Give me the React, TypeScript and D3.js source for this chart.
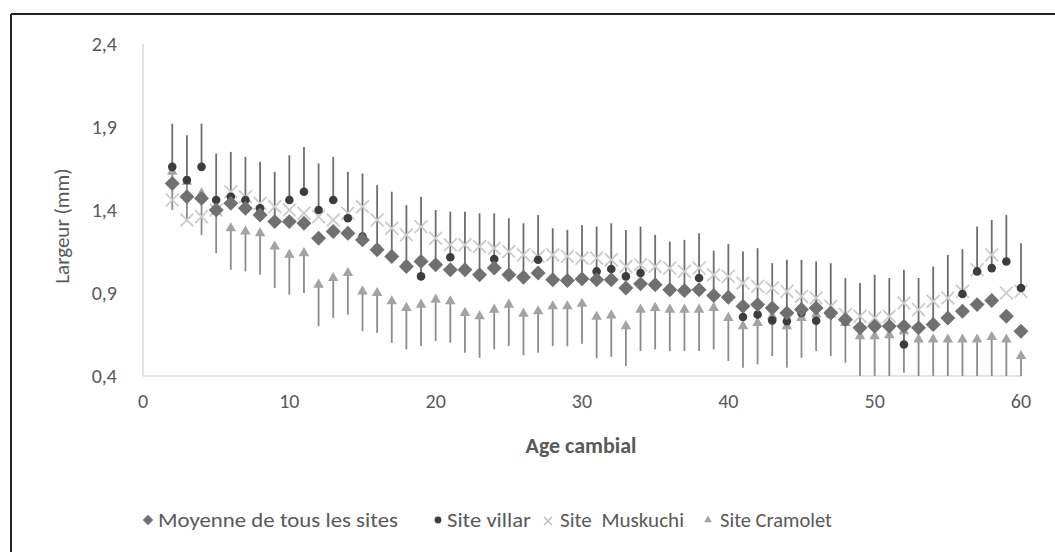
import React from 'react';
import * as d3 from 'd3';

const ages = [2,3,4,5,6,7,8,9,10,11,12,13,14,15,16,17,18,19,20,21,22,23,24,25,26,27,28,29,30,31,32,33,34,35,36,37,38,39,40,41,42,43,44,45,46,47,48,49,50,51,52,53,54,55,56,57,58,59,60];

const moyenne = [1.56,1.48,1.47,1.40,1.44,1.41,1.37,1.33,1.33,1.32,1.23,1.27,1.26,1.22,1.16,1.12,1.06,1.09,1.07,1.04,1.04,1.01,1.05,1.01,0.995,1.02,0.98,0.975,0.985,0.98,0.98,0.93,0.955,0.95,0.92,0.915,0.92,0.885,0.875,0.82,0.83,0.81,0.78,0.80,0.81,0.78,0.74,0.69,0.70,0.70,0.70,0.69,0.71,0.75,0.79,0.83,0.855,0.76,0.67];

const villar = [1.66,1.58,1.66,1.46,1.48,1.46,1.41,1.33,1.46,1.51,1.40,1.46,1.35,1.24,1.17,1.12,1.07,1.00,1.07,1.115,1.04,1.01,1.105,1.01,1.00,1.10,0.98,0.97,0.99,1.03,1.045,1.00,1.02,0.95,0.92,0.92,0.99,0.88,0.87,0.755,0.77,0.735,0.73,0.78,0.733,0.77,0.73,0.69,0.70,0.70,0.59,0.69,0.71,0.75,0.894,1.03,1.05,1.09,0.93];

const villarErrPlus = [0.26,0.27,0.26,0.28,0.27,0.26,0.28,0.30,0.27,0.27,0.28,0.26,0.28,0.38,0.38,0.39,0.36,0.48,0.33,0.275,0.35,0.37,0.275,0.34,0.32,0.27,0.31,0.31,0.32,0.27,0.275,0.28,0.28,0.30,0.29,0.30,0.27,0.275,0.325,0.395,0.40,0.345,0.37,0.32,0.357,0.31,0.26,0.27,0.31,0.29,0.45,0.30,0.35,0.38,0.27,0.27,0.29,0.28,0.27];

const muskuchi = [1.46,1.34,1.36,1.40,1.51,1.48,1.44,1.42,1.40,1.38,1.36,1.34,1.38,1.42,1.34,1.29,1.25,1.30,1.23,1.19,1.19,1.18,1.17,1.15,1.13,1.12,1.13,1.12,1.11,1.11,1.10,1.06,1.07,1.06,1.05,1.03,1.05,1.01,1.00,0.96,0.94,0.93,0.91,0.88,0.87,0.82,0.77,0.76,0.75,0.76,0.84,0.80,0.85,0.87,0.91,1.04,1.13,0.90,0.91];

const cramolet = [1.63,1.57,1.50,1.39,1.29,1.27,1.26,1.18,1.13,1.14,0.95,0.99,1.02,0.91,0.90,0.85,0.81,0.83,0.86,0.85,0.78,0.76,0.80,0.83,0.775,0.79,0.82,0.82,0.835,0.757,0.765,0.70,0.80,0.81,0.80,0.80,0.80,0.81,0.75,0.70,0.72,0.76,0.70,0.75,0.77,0.77,0.72,0.64,0.64,0.645,0.67,0.62,0.62,0.62,0.62,0.62,0.635,0.62,0.52];

const cramoletErrMinus = [0.23,0.23,0.25,0.25,0.25,0.24,0.25,0.25,0.24,0.24,0.25,0.24,0.25,0.24,0.24,0.25,0.25,0.25,0.25,0.25,0.24,0.25,0.24,0.25,0.25,0.25,0.24,0.24,0.24,0.25,0.25,0.24,0.25,0.25,0.25,0.25,0.25,0.25,0.26,0.25,0.25,0.24,0.25,0.24,0.22,0.25,0.24,0.25,0.25,0.25,0.25,0.25,0.25,0.25,0.25,0.25,0.25,0.25,0.25];

const yTicks = [0.4, 0.9, 1.4, 1.9, 2.4];
const xTicks = [0, 10, 20, 30, 40, 50, 60];

const legendLabels = ['Moyenne de tous les sites', 'Site villar', 'Site  Muskuchi', 'Site Cramolet'];

const W = 1055;
const H = 552;
const FONT = 'Carlito, Calibri, Lato, sans-serif';
const TXT = '#595959';

export default function App() {
  const x = d3.scaleLinear().domain([0, 60]).range([143, 1021]);
  const y = d3.scaleLinear().domain([0.4, 2.4]).range([376, 44]);
  const yc = (v: number) => y(Math.max(0.4, Math.min(2.4, v)));
  const fmt = (v: number) => d3.format('.1f')(v).replace('.', ',');

  const diamond = d3.symbol().type(d3.symbolSquare).size(112)()!;
  const tri = d3.symbol().type(d3.symbolTriangle).size(48)()!;
  const cross = d3.symbol().type(d3.symbolX).size(110)()!;

  const legDiamond = d3.symbol().type(d3.symbolSquare).size(55)()!;
  const legTri = d3.symbol().type(d3.symbolTriangle).size(26)()!;
  const legCross = d3.symbol().type(d3.symbolX).size(42)()!;

  const legendItems = [
    { mx: 148, tx: 158, tw: 240, label: legendLabels[0], kind: 'diamond' },
    { mx: 438, tx: 447, tw: 84, label: legendLabels[1], kind: 'circle' },
    { mx: 548, tx: 560, tw: 124, label: legendLabels[2], kind: 'cross' },
    { mx: 708, tx: 720, tw: 112, label: legendLabels[3], kind: 'tri' },
  ];

  return (
    <svg width={W} height={H} style={{ position: 'fixed', left: 0, top: 0, background: '#fff' }} fontFamily={FONT}>
      <rect x={0} y={0} width={W} height={H} fill="#fff" />
      <line x1={11} y1={14} x2={W} y2={14} stroke="#222" strokeWidth={2} />
      <line x1={11} y1={14} x2={11} y2={H} stroke="#222" strokeWidth={2} />

      <line x1={x(0)} y1={y(2.4)} x2={x(0)} y2={y(0.4)} stroke="#d9d9d9" strokeWidth={1.5} />
      <line x1={x(0)} y1={y(0.4)} x2={x(60)} y2={y(0.4)} stroke="#d9d9d9" strokeWidth={1.5} />

      {yTicks.map((t) => (
        <text key={'y' + t} x={117} y={y(t)} dy="0.35em" textAnchor="end" fontSize={20} fill={TXT}>{fmt(t)}</text>
      ))}
      {xTicks.map((t) => (
        <text key={'x' + t} x={x(t)} y={408} textAnchor="middle" fontSize={20} fill={TXT}>{t}</text>
      ))}

      <text transform={`translate(69,226) rotate(-90)`} textAnchor="middle" fontSize={21} fill={TXT}>Largeur (mm)</text>
      <text x={581} y={453} textAnchor="middle" fontSize={22} fontWeight="bold" fill={TXT}>Age cambial</text>

      {ages.map((a, i) => (
        <line key={'ce' + a} x1={x(a)} x2={x(a)} y1={yc(cramolet[i])} y2={yc(cramolet[i] - cramoletErrMinus[i])} stroke="#8c8c8c" strokeWidth={1.8} />
      ))}
      {ages.map((a, i) => (
        <line key={'ve' + a} x1={x(a)} x2={x(a)} y1={yc(villar[i])} y2={yc(villar[i] + villarErrPlus[i])} stroke="#6e6e6e" strokeWidth={1.8} />
      ))}

      {ages.map((a, i) => (
        <path key={'m' + a} d={cross} transform={`translate(${x(a)},${y(muskuchi[i])})`} fill="none" stroke="#cbcbcb" strokeWidth={1.8} />
      ))}
      {ages.map((a, i) => (
        <path key={'c' + a} d={tri} transform={`translate(${x(a)},${y(cramolet[i])})`} fill="#a3a3a3" />
      ))}
      {ages.map((a, i) => (
        <circle key={'v' + a} cx={x(a)} cy={y(villar[i])} r={4.3} fill="#3d3d3d" />
      ))}
      {ages.map((a, i) => (
        <path key={'d' + a} d={diamond} transform={`translate(${x(a)},${y(moyenne[i])}) rotate(45)`} fill="#707070" />
      ))}

      {legendItems.map((it) => (
        <g key={it.label}>
          {it.kind === 'diamond' && <path d={legDiamond} transform={`translate(${it.mx},520) rotate(45)`} fill="#707070" />}
          {it.kind === 'circle' && <circle cx={it.mx} cy={520} r={3.4} fill="#3d3d3d" />}
          {it.kind === 'cross' && <path d={legCross} transform={`translate(${it.mx},521)`} fill="none" stroke="#bdbdbd" strokeWidth={1.4} />}
          {it.kind === 'tri' && <path d={legTri} transform={`translate(${it.mx},520)`} fill="#a3a3a3" />}
          <text x={it.tx} y={527} fontSize={21} fill={TXT} textLength={it.tw} lengthAdjust="spacingAndGlyphs" style={{ whiteSpace: 'pre' }}>{it.label}</text>
        </g>
      ))}
    </svg>
  );
}
